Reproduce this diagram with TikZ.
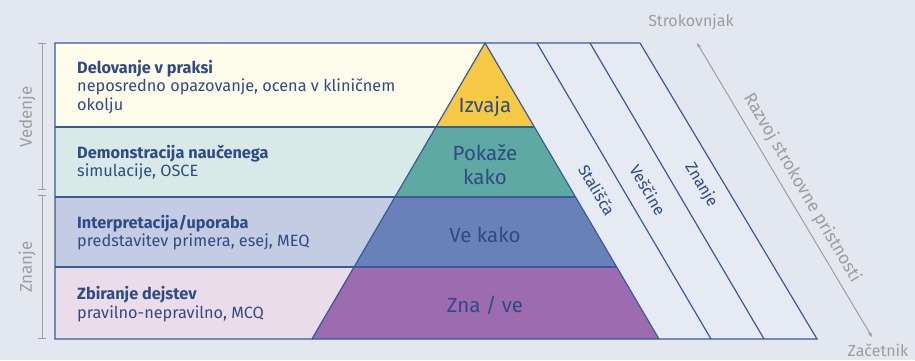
\documentclass[tikz,border=0pt]{standalone}
\usepackage{fontspec}
\setmainfont{Fira Sans}
\usetikzlibrary{arrows.meta}
\definecolor{bgc}{HTML}{E3E8F0}
\definecolor{inc}{HTML}{E6EBF3}
\definecolor{crm}{HTML}{FDFBEA}
\definecolor{ltea}{HTML}{D8EAE8}
\definecolor{lblu}{HTML}{C3CCE3}
\definecolor{lpnk}{HTML}{EBDCEA}
\definecolor{yel}{HTML}{F6C945}
\definecolor{tea}{HTML}{5EA9A3}
\definecolor{blu}{HTML}{6A80B9}
\definecolor{pur}{HTML}{9C6BB0}
\definecolor{linec}{HTML}{3A5A98}
\definecolor{txtc}{HTML}{2F4A85}
\definecolor{greyc}{HTML}{A09C9C}
\begin{document}
\begin{tikzpicture}[x=1pt,y=-1pt,
    band/.style={draw=linec,line width=1.2pt},
    lbl/.style={anchor=west,align=left,text=txtc,inner sep=0pt,
        font=\fontsize{16.3}{18.5}\selectfont},
    plbl/.style={text=txtc,align=center,inner sep=0pt,font=\fontsize{20.5}{24}\selectfont},
    dlbl/.style={text=txtc,rotate=-59.6,inner sep=0pt,font=\fontsize{16}{18}\selectfont},
    grey/.style={text=greyc,inner sep=0pt,font=\fontsize{16}{18}\selectfont},
    brace/.style={draw=greyc,line width=1pt,{Bar[width=8pt]}-{Bar[width=8pt]}}]
  \fill[bgc] (0,0) rectangle (915,360);
  \useasboundingbox (0,0) rectangle (915,360);
  \fill[inc] (55,43) -- (640,43) -- (817,339) -- (55,339) -- cycle;
  % left bands
  \foreach \ya/\yb/\c in {43/127/crm,127/197/ltea,197/267/lblu,267/339/lpnk}
    \fill[\c] (55,\ya) rectangle (485,\yb);
  % pyramid
  \foreach \ya/\yb/\c in {43/127/yel,127/197/tea,197/267/blu,267/339/pur}
    \fill[\c] ({485-0.5865*(\ya-43)},\ya) -- ({485+0.5865*(\ya-43)},\ya)
      -- ({485+0.5865*(\yb-43)},\yb) -- ({485-0.5865*(\yb-43)},\yb) -- cycle;
  \foreach \y in {127,197,267}
    \draw[band] (55,\y) -- ({485+0.5865*(\y-43)},\y);
  \draw[band] (312,339) -- (485,43) -- (659,339);
  \foreach \x in {537,590}
    \draw[band] (\x,43) -- +(174,296);
  \draw[band] (55,43) -- (640,43) -- (817,339) -- (55,339) -- cycle;
  % texts in bands
  \node[lbl] (praksa) at (77,87) {\textbf{Delovanje v praksi}\\neposredno opazovanje, ocena v kliničnem\\okolju};
  \node[lbl] (demo) at (77,162.5) {\textbf{Demonstracija naučenega}\\simulacije, OSCE};
  \node[lbl] (interp) at (77,232.5) {\textbf{Interpretacija/uporaba}\\predstavitev primera, esej, MEQ};
  \node[lbl] (dejstva) at (77,304) {\textbf{Zbiranje dejstev}\\pravilno-nepravilno, MCQ};
  \node[plbl] (izvaja) at (485,107) {Izvaja};
  \node[plbl] (pokaze) at (485,165) {Pokaže\\kako};
  \node[plbl] (vekako) at (485,235) {Ve kako};
  \node[plbl] (znave) at (485,305) {Zna / ve};
  \node[dlbl] (stalisca) at (597,190) {Stališča};
  \node[dlbl] (vescine) at (648,190) {Veščine};
  \node[dlbl] (znanje) at (701,185) {Znanje};
  % development arrow
  \node[grey] (strok) at (691,22) {Strokovnjak};
  \node[grey] (zacetnik) at (878,350) {Začetnik};
  \coordinate (top) at (697,43);
  \coordinate (bot) at (872,337);
  \draw[draw=greyc,line width=1pt,{Stealth[length=5pt]}-{Stealth[length=5pt]}] (bot) -- (top);
  \node[grey,rotate=-59.6,font=\fontsize{17.5}{20}\selectfont] (razvoj) at (802,188) {Razvoj strokovne pristnosti};
  % left braces
  \coordinate (v1) at (42,43);
  \coordinate (v2) at (42,190);
  \coordinate (z1) at (42,195);
  \coordinate (z2) at (42,339);
  \draw[brace] (v1) -- (v2);
  \draw[brace] (z1) -- (z2);
  \node[grey,rotate=90,font=\fontsize{17}{20}\selectfont] (vedenje) at (27,117) {Vedenje};
  \node[grey,rotate=90,font=\fontsize{17}{20}\selectfont] (znanjeL) at (27,267) {Znanje};
\end{tikzpicture}
\end{document}
